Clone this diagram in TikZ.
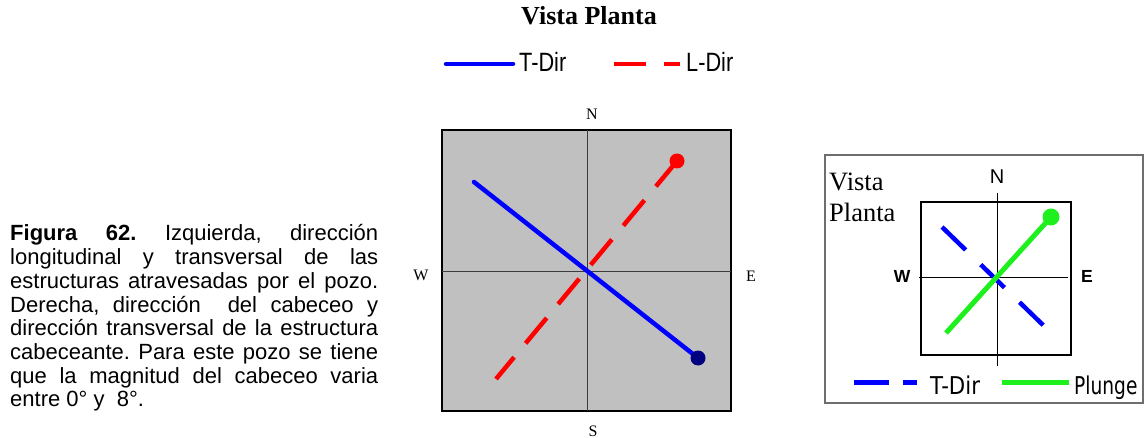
\documentclass[tikz,border=0pt]{standalone}
\usepackage{fontspec}
\setmainfont{Liberation Serif}
\newfontfamily\arialf{Liberation Sans}
\newfontfamily\djv{DejaVu Sans}
\definecolor{boxgray}{RGB}{192,192,192}
\definecolor{axgray}{RGB}{60,60,60}
\definecolor{navydot}{RGB}{0,0,128}
\definecolor{tblue}{RGB}{0,0,255}
\definecolor{lred}{RGB}{255,0,0}
\definecolor{pgreen}{RGB}{30,240,30}
\definecolor{framegray}{RGB}{110,110,110}
\tikzset{
  lbl/.style={inner sep=0pt, anchor=base},
  lblw/.style={inner sep=0pt, anchor=base west},
  axline/.style={draw=axgray, line width=1pt},
  tsolid/.style={draw=tblue, line width=4.5pt, line cap=round},
  ldash/.style={draw=lred, line width=4.5pt, dash pattern=on 33pt off 18pt},
  tdash/.style={draw=tblue, line width=4.5pt, dash pattern=on 33pt off 21pt},
  plunge/.style={draw=pgreen, line width=5pt},
}
\begin{document}
\begin{tikzpicture}[x=1pt,y=-1pt]
\useasboundingbox (0,0) rectangle (1145,438);

% caption
\node[inner sep=0pt, anchor=base west] (cap) at (10,241) {\parbox[t]{368pt}{\arialf\fontsize{22}{23.7}\selectfont\frenchspacing\hyphenpenalty=10000
\textbf{Figura 62.} Izquierda, dirección\linebreak
longitudinal y transversal de las\linebreak
estructuras atravesadas por el pozo.\linebreak
Derecha, dirección \ del cabeceo y\linebreak
dirección transversal de la estructura\linebreak
cabeceante. Para este pozo se tiene\linebreak
que la magnitud del cabeceo varia\linebreak
entre 0° y\ \ 8°.}};

% title and legend
\node[lbl] (title) at (589,25) {\bfseries\fontsize{26}{26}\selectfont Vista Planta};
\coordinate (lt1) at (446,64); \coordinate (lt2) at (513,64);
\draw[tsolid] (lt1) -- (lt2);
\node[lblw] (ltT) at (519,72) {\scalebox{0.82}[1]{\arialf\fontsize{26.5}{26.5}\selectfont T-Dir}};
\coordinate (ll1) at (614,64); \coordinate (ll2) at (680,64);
\draw[draw=lred, line width=4.5pt, dash pattern=on 32pt off 18pt] (ll1) -- (ll2);
\node[lblw] (ltL) at (686,72) {\scalebox{0.82}[1]{\arialf\fontsize{26.5}{26.5}\selectfont L-Dir}};

% middle plot
\draw[fill=boxgray, draw=black, line width=1.5pt] (442,130) rectangle (731,411);
\coordinate (mN) at (587,130); \coordinate (mS) at (587,411);
\coordinate (mW) at (442,271); \coordinate (mE) at (731,271);
\draw[axline] (mN) -- (mS);
\draw[axline] (mW) -- (mE);
\coordinate (t1) at (474,182); \coordinate (t2) at (698,358);
\draw[tsolid] (t1) -- (t2);
\fill[navydot] (t2) circle (7.5);
\coordinate (l1) at (677,161); \coordinate (l2) at (496,379);
\draw[ldash] (l1) -- (l2);
\fill[lred] (l1) circle (7.5);
\node[lbl] (labN) at (592,120) {\fontsize{16}{16}\selectfont N};
\node[lbl] (labW) at (421,280) {\fontsize{16}{16}\selectfont W};
\node[lbl] (labE) at (751,281) {\fontsize{16}{16}\selectfont E};
\node[lbl] (labS) at (593,436) {\fontsize{16}{16}\selectfont S};

% right panel
\draw[draw=framegray, line width=1.2pt] (825,155) rectangle (1143,403);
\node[lblw] (vista) at (829,191) {\fontsize{26.5}{26.5}\selectfont Vista};
\node[lblw] (planta) at (829,222) {\fontsize{26.5}{26.5}\selectfont Planta};
\draw[draw=black, line width=2.6pt] (921,202) rectangle (1071,355);
\coordinate (rN) at (997,193); \coordinate (rS) at (997,366);
\coordinate (rW) at (919,277); \coordinate (rE) at (1068,277);
\draw[draw=black, line width=0.9pt] (rN) -- (rS);
\draw[draw=black, line width=0.9pt] (rW) -- (rE);
\coordinate (b1) at (942,227); \coordinate (b2) at (1044,326);
\draw[tdash] (b1) -- (b2);
\coordinate (g1) at (946,333); \coordinate (g2) at (1051,217);
\draw[plunge] (g1) -- (g2);
\fill[pgreen] (g2) circle (8.5);
\node[lbl] (rlabN) at (997,184) {\arialf\fontsize{20}{20}\selectfont N};
\node[lbl] (rlabW) at (902,283) {\arialf\bfseries\fontsize{17.5}{17.5}\selectfont W};
\node[lbl] (rlabE) at (1087,283) {\arialf\bfseries\fontsize{17.5}{17.5}\selectfont E};
% right legend
\coordinate (rb1) at (854,382); \coordinate (rb2) at (917,382);
\draw[draw=tblue, line width=5pt, dash pattern=on 35pt off 14pt] (rb1) -- (rb2);
\node[lblw] (rT) at (930,394) {\scalebox{0.87}[1]{\djv\fontsize{24.5}{24.5}\selectfont T-Dir}};
\coordinate (rg1) at (1002,382); \coordinate (rg2) at (1069,382);
\draw[plunge] (rg1) -- (rg2);
\node[lblw] (rP) at (1074,394) {\scalebox{0.76}[1]{\djv\fontsize{24.5}{24.5}\selectfont Plunge}};
\end{tikzpicture}
\end{document}
